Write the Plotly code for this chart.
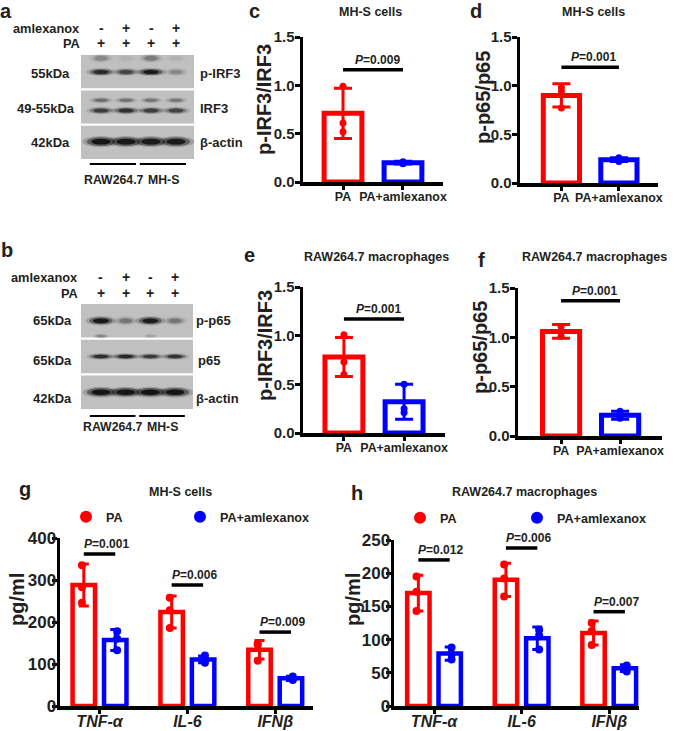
import numpy as np
import plotly.graph_objects as go

W, H = 674, 731
RED, BLUE, INK = '#ff0000', '#0000ff', '#231f20'
ARIAL = '"Liberation Sans", Arial, sans-serif'
NARROW = ARIAL  # condensed face is not installed; smaller size keeps the widths

# ------------------------------------------------------------------ data
lanes = [1, 2, 3, 4]
amlexanox_signs = ['-', '+', '-', '+']
pa_signs = ['+', '+', '+', '+']
cell_lines = ['RAW264.7', 'MH-S']
cell_line_lanes = [[1, 2], [3, 4]]

# blot a (relative band intensities, 0..1)
a_proteins = ['p-IRF3', 'IRF3', 'β-actin']
a_kda = ['55kDa', '49-55kDa', '42kDa']
a_pirf3 = [0.78, 0.58, 0.92, 0.22]
a_pirf3_smear = [0.22, 0.04, 0.28, 0.04]
a_irf3_upper = [0.35, 0.32, 0.3, 0.3]
a_irf3_lower = [0.62, 0.72, 0.62, 0.58]
a_actin = [0.97, 0.95, 0.92, 0.92]

# blot b
b_proteins = ['p-p65', 'p65', 'β-actin']
b_kda = ['65kDa', '65kDa', '42kDa']
b_pp65 = [0.95, 0.3, 0.92, 0.3]
b_pp65_minor = [0.22, 0.0, 0.1, 0.0]
b_p65 = [0.75, 0.8, 0.65, 0.7]
b_actin = [0.97, 0.97, 0.97, 0.97]

groups2 = ['PA', 'PA+amlexanox']

# c: MH-S cells p-IRF3/IRF3
c_mean = [0.71, 0.20]
c_sd = [0.26, 0.015]
c_pts = [[0.99, 0.61, 0.52], [0.21, 0.19, 0.20]]
c_p, c_p_y = '0.009', 1.16

# d: MH-S cells p-p65/p65
d_mean = [0.90, 0.24]
d_sd = [0.12, 0.02]
d_pts = [[0.98, 0.94, 0.77], [0.26, 0.24, 0.22]]
d_p, d_p_y = '0.001', 1.19

# e: RAW264.7 p-IRF3/IRF3
e_mean = [0.78, 0.32]
e_sd = [0.20, 0.18]
e_pts = [[1.01, 0.73, 0.60], [0.50, 0.25, 0.21]]
e_p, e_p_y = '0.001', 1.17

# f: RAW264.7 p-p65/p65
f_mean = [1.06, 0.21]
f_sd = [0.07, 0.04]
f_pts = [[1.11, 1.06, 1.01], [0.25, 0.20, 0.18]]
f_p, f_p_y = '0.001', 1.37

cytokines = ['TNF-α', 'IL-6', 'IFNβ']

# g: MH-S cells cytokines (pg/ml)
g_pa_mean = [288, 224, 134]
g_pa_sd = [50, 38, 22]
g_pa_pts = [[335, 283, 246], [258, 228, 186], [149, 145, 108]]
g_am_mean = [157, 111, 66]
g_am_sd = [25, 8, 5]
g_am_pts = [[178, 160, 133], [120, 110, 103], [70, 64, 62]]
g_p = ['0.001', '0.006', '0.009']
g_p_y = [362, 288, 176]

# h: RAW264.7 macrophages cytokines (pg/ml)
h_pa_mean = [170, 190, 110]
h_pa_sd = [27, 25, 18]
h_pa_pts = [[195, 172, 143], [213, 192, 165], [125, 113, 92]]
h_am_mean = [79, 102, 57]
h_am_sd = [10, 17, 5]
h_am_pts = [[88, 78, 70], [115, 106, 85], [61, 57, 52]]
h_p = ['0.012', '0.006', '0.007']
h_p_y = [220, 238, 142]


# ------------------------------------------------------------------ helpers
def px_x(a, b):
    return [a / W, b / W]


def px_y(top, bot):
    return [1 - bot / H, 1 - top / H]


annotations = []
shapes = []


def txt(s, x, y, size, family=NARROW, xanchor='center', xref='paper', yref='paper',
        style='normal', color=INK, yanchor='middle', weight='bold', **kw):
    if xref == 'paper':
        x = x / W
    if yref == 'paper':
        y = 1 - y / H
    annotations.append(dict(text=s, x=x, y=y, xref=xref, yref=yref, showarrow=False,
                            xanchor=xanchor, yanchor=yanchor,
                            font=dict(family=family, size=size, color=color,
                                      weight=weight, style=style), **kw))


fig = go.Figure()
layout = dict(template='none', width=W, height=H, margin=dict(l=0, r=0, t=0, b=0, pad=0),
              paper_bgcolor='white', plot_bgcolor='rgba(0,0,0,0)',
              bargap=0.284, bargroupgap=0.286, scattermode='group', barmode='group',
              font=dict(family=ARIAL, color=INK))

# ------------------------------------------------------------------ blots
def add_bands(ax, strip, yfrac, values, hw, hh):
    for lane, v in zip(lanes, values):
        if v <= 0:
            continue
        w = hw * (0.72 + 0.28 * v)
        for scale, a in ((1.5, 0.2), (1.15, 0.45), (0.78, 0.9)):
            shapes.append(dict(type='circle', xref='x' + ax, yref='y' + ax,
                               x0=lane - w * scale, x1=lane + w * scale,
                               y0=strip + yfrac - hh * scale, y1=strip + yfrac + hh * scale,
                               fillcolor=f'rgba(12,12,12,{min(a * v, 1):.3f})',
                               line=dict(width=0), layer='above'))


def blot(k, dom_x, dom_y, xrange, rows, kda, kda_pos, prot, prot_pos,
         sign_y, sign_label_x, line_y, group_y):
    layout['xaxis' + k] = dict(domain=px_x(*dom_x), range=xrange, visible=False,
                               fixedrange=True, anchor='y' + k, automargin=False)
    layout['yaxis' + k] = dict(domain=px_y(*dom_y), range=[3, 0], visible=False,
                               fixedrange=True, anchor='x' + k, automargin=False)
    fig.add_trace(go.Scatter(x=[None], y=[None], xaxis='x' + k, yaxis='y' + k,
                             showlegend=False, hoverinfo='skip', offsetgroup='blot' + k))
    for i in range(3):
        shapes.append(dict(type='rect', xref='x' + k + ' domain', yref='y' + k,
                           x0=0, x1=1, y0=i + 0.03, y1=i + 0.97,
                           fillcolor='#c0c0c0', line=dict(width=0), layer='below'))
    for (strip, yfrac, vals, hw, hh) in rows:
        add_bands(k, strip, yfrac, vals, hw, hh)
    for s, (x, y) in zip(kda, kda_pos):
        txt(s, x, y, 13, xanchor='right')
    for s, (x, y) in zip(prot, prot_pos):
        txt(s, x, y, 13, xanchor='left')
    txt('amlexanox', sign_label_x, sign_y[0], 12.8, xanchor='right')
    txt('PA', sign_label_x, sign_y[1], 12.8, xanchor='right')
    for lane, s1, s2 in zip(lanes, amlexanox_signs, pa_signs):
        txt(s1, lane, sign_y[0], 14, xref='x' + k)
        txt(s2, lane, sign_y[1], 14, xref='x' + k)
    for name, (l0, l1) in zip(cell_lines, cell_line_lanes):
        shapes.append(dict(type='line', xref='x' + k, yref='paper',
                           x0=l0 - 0.45, x1=l1 + 0.4, y0=1 - line_y / H, y1=1 - line_y / H,
                           line=dict(color='black', width=2)))
        txt(name, (l0 + l1) / 2, group_y, 12.3, xref='x' + k)


blot('', (81, 194), (54, 160), [0.2, 4.72],
     [(0, 0.12, a_pirf3_smear, 0.42, 0.09),
      (0, 0.51, a_pirf3, 0.42, 0.075),
      (1, 0.31, a_irf3_upper, 0.4, 0.06),
      (1, 0.60, a_irf3_lower, 0.44, 0.07),
      (2, 0.48, a_actin, 0.5, 0.105)],
     a_kda, [(72, 73), (77, 109), (72, 142)],
     a_proteins, [(198, 73), (198, 109), (198, 142)],
     (28, 43), 82, 164, 180)

blot('2', (81, 193), (303, 410), [0.19, 4.73],
     [(0, 0.5, b_pp65, 0.42, 0.085),
      (0, 0.93, b_pp65_minor, 0.3, 0.05),
      (1, 0.5, b_p65, 0.42, 0.06),
      (2, 0.5, b_actin, 0.5, 0.1)],
     b_kda, [(74, 320), (74, 360), (74, 398)],
     b_proteins, [(194, 320), (196, 360), (194, 398)],
     (277, 293), 80, 416, 427)


# ------------------------------------------------------------------ bar panels
def yaxis_cfg(k, dom, rng, tv, fmt, size, standoff):
    return dict(domain=px_y(*dom), range=rng, tickvals=tv, tickformat=fmt,
                showline=True, linecolor='black', linewidth=3.5,
                ticks='outside', ticklen=5, tickwidth=3, tickcolor='black',
                ticklabelstandoff=standoff,
                showgrid=False, zeroline=False, automargin=False,
                tickfont=dict(family=ARIAL, size=size, color=INK, weight='bold'),
                anchor=f'x{k}', fixedrange=True)


def xaxis_cfg(k, dom, rng, size, style='normal', standoff=0):
    return dict(domain=px_x(*dom), range=rng, type='category', tickangle=0,
                showline=True, linecolor='black', linewidth=3.5,
                ticks='outside', ticklen=4, tickwidth=3, tickcolor='black',
                ticklabelstandoff=standoff,
                showgrid=False, zeroline=False, automargin=False,
                tickfont=dict(family=NARROW, size=size, color=INK, weight='bold', style=style),
                anchor=f'y{k}', fixedrange=True)


def ytitle(s, x, y):
    txt(s, x, y, 20, family=ARIAL, textangle=-90)


def pair_panel(k, dom_x, dom_y, xr, means, sds, pts, pval, py):
    layout[f'xaxis{k}'] = xaxis_cfg(k, dom_x, xr, 12.4, standoff=-3)
    layout[f'yaxis{k}'] = yaxis_cfg(k, dom_y, [0, 1.5], [0, 0.5, 1.0, 1.5], '.1f', 15, -3)
    for cat, m, s, p, col in zip(groups2, means, sds, pts, [RED, BLUE]):
        fig.add_trace(go.Bar(x=[cat], y=[m], width=0.63,
                             error_y=dict(type='data', array=[s], color=col,
                                          thickness=3, width=9),
                             marker=dict(color='white', line=dict(color=col, width=5)),
                             offsetgroup=f'p{k}', xaxis=f'x{k}', yaxis=f'y{k}',
                             showlegend=False, hoverinfo='skip'))
        fig.add_trace(go.Scatter(x=[cat] * len(p), y=p, mode='markers',
                                 marker=dict(color=col, size=7),
                                 offsetgroup=f'p{k}', xaxis=f'x{k}', yaxis=f'y{k}',
                                 showlegend=False, hoverinfo='skip'))
    shapes.append(dict(type='line', xref=f'x{k}', yref=f'y{k}', x0=0, x1=1, y0=py, y1=py,
                       line=dict(color='black', width=3.5)))
    txt(f'<i>P</i>={pval}', 1, py, 12, xref=f'x{k}', yref=f'y{k}', xanchor='right',
        yanchor='bottom', yshift=1, xshift=-1)


pair_panel(3, (303, 443), (37, 182), [-0.667, 1.667], c_mean, c_sd, c_pts, c_p, c_p_y)
pair_panel(4, (520, 658), (37, 183), [-0.72, 1.68], d_mean, d_sd, d_pts, d_p, d_p_y)
pair_panel(5, (303, 445), (287, 433), [-0.68, 1.68], e_mean, e_sd, e_pts, e_p, e_p_y)
pair_panel(6, (518, 662), (288, 436), [-0.73, 1.71], f_mean, f_sd, f_pts, f_p, f_p_y)
ytitle('p-IRF3/IRF3', 264, 100)
ytitle('p-p65/p65', 483, 98)
ytitle('p-IRF3/IRF3', 265, 346)
ytitle('p-p65/p65', 480, 348)


def cyto_panel(k, dom_x, dom_y, xr, yr, tv, series, pvals, pys, legends):
    layout[f'xaxis{k}'] = xaxis_cfg(k, dom_x, xr, 16, style='italic', standoff=-6)
    layout[f'yaxis{k}'] = yaxis_cfg(k, dom_y, yr, tv, 'd', 17, -8)
    for (name, col, means, sds, pts), leg in zip(series, legends):
        og = f'{k}-{name}'
        fig.add_trace(go.Bar(x=cytokines, y=means,
                             error_y=dict(type='data', array=sds, color=col,
                                          thickness=3, width=5),
                             marker=dict(color='white', line=dict(color=col, width=4.5)),
                             offsetgroup=og, alignmentgroup=f'a{k}',
                             xaxis=f'x{k}', yaxis=f'y{k}', showlegend=False,
                             hoverinfo='skip'))
        xs = [c for c, p in zip(cytokines, pts) for _ in p]
        ys = [v for p in pts for v in p]
        fig.add_trace(go.Scatter(x=xs, y=ys, mode='markers', name=name,
                                 marker=dict(color=col, size=8),
                                 offsetgroup=og, alignmentgroup=f'a{k}',
                                 xaxis=f'x{k}', yaxis=f'y{k}', legend=leg,
                                 showlegend=True, hoverinfo='skip'))
    for i, (pv, py) in enumerate(zip(pvals, pys)):
        shapes.append(dict(type='line', xref=f'x{k}', yref=f'y{k}',
                           x0=i - 0.179, x1=i + 0.179, y0=py, y1=py,
                           line=dict(color='black', width=3.5)))
        txt(f'<i>P</i>={pv}', i - 0.179, py, 12, xref=f'x{k}', yref=f'y{k}',
            xanchor='left', yanchor='bottom', yshift=1, xshift=-2)


cyto_panel(7, (60, 313), (538, 706), [-0.45, 2.43], [0, 400], [0, 100, 200, 300, 400],
           [('PA', RED, g_pa_mean, g_pa_sd, g_pa_pts),
            ('PA+amlexanox', BLUE, g_am_mean, g_am_sd, g_am_pts)],
           g_p, g_p_y, ['legend', 'legend2'])
cyto_panel(8, (394, 639), (540, 706), [-0.457, 2.34], [0, 250], [0, 50, 100, 150, 200, 250],
           [('PA', RED, h_pa_mean, h_pa_sd, h_pa_pts),
            ('PA+amlexanox', BLUE, h_am_mean, h_am_sd, h_am_pts)],
           h_p, h_p_y, ['legend3', 'legend4'])
ytitle('pg/ml', 17, 600)
ytitle('pg/ml', 353, 600)

leg_common = dict(xanchor='left', yanchor='middle', itemsizing='constant',
                  bgcolor='rgba(0,0,0,0)', borderwidth=0,
                  font=dict(family=NARROW, size=12.6, color=INK, weight='bold'))
for name, dot_x, dot_y in [('legend', 86, 517), ('legend2', 200, 517),
                           ('legend3', 420, 518), ('legend4', 537, 518)]:
    layout[name] = dict(x=(dot_x - 20) / W, y=1 - dot_y / H, **leg_common)

# ------------------------------------------------------------------ titles & letters
for s, x, y in [('MH-S cells', 370, 12), ('MH-S cells', 593, 12),
                ('RAW264.7 macrophages', 376, 257), ('RAW264.7 macrophages', 594, 257),
                ('MH-S cells', 180, 492), ('RAW264.7 macrophages', 524, 492)]:
    txt(s, x, y, 12.5)

for s, x, y in [('a', 6, 11), ('b', 7, 250), ('c', 254, 11), ('d', 476, 11),
                ('e', 249, 255), ('f', 481, 260), ('g', 25, 489), ('h', 357, 493)]:
    txt(s, x, y, 20, family=ARIAL)

layout['annotations'] = annotations
layout['shapes'] = shapes
fig.update_layout(**layout)
fig.write_html('out.html', config={'displayModeBar': False, 'staticPlot': True},
               post_script="document.body.style.margin='0';"
                           "document.body.style.padding='0';"
                           "document.body.style.overflow='hidden';")
